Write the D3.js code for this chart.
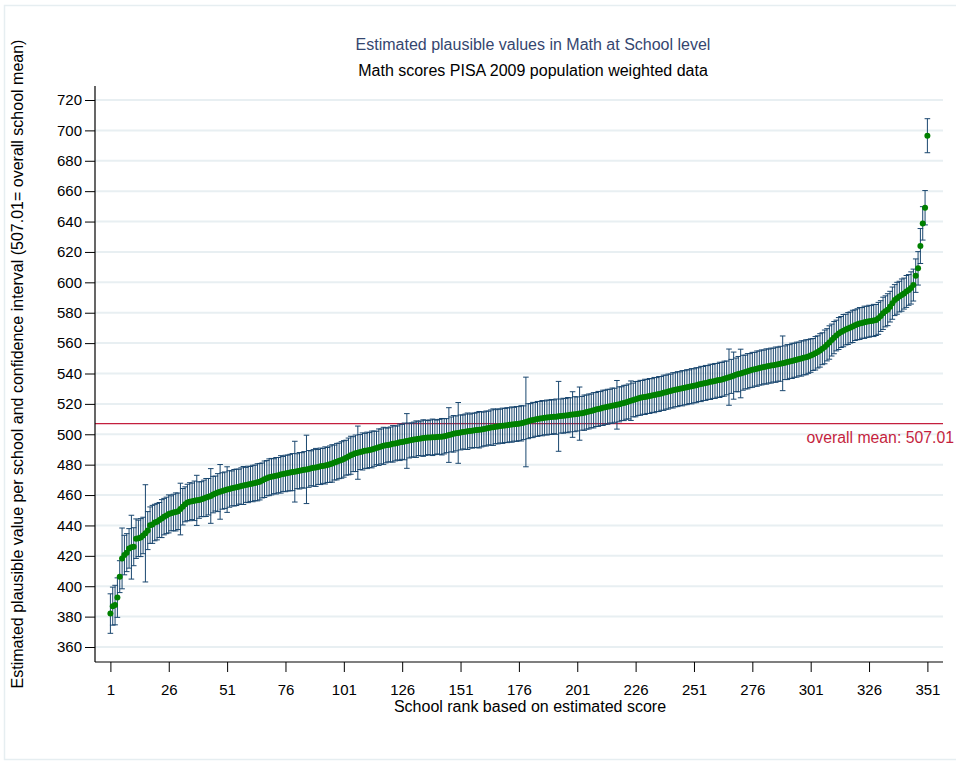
<!DOCTYPE html>
<html>
<head>
<meta charset="utf-8">
<script src="https://cdn.jsdelivr.net/npm/d3@7"></script>
<style>
  html, body { margin: 0; padding: 0; background: #ffffff; }
  svg { display: block; }
  text { font-family: "Liberation Sans", Arial, Helvetica, sans-serif; }
</style>
</head>
<body>
<svg id="chart" width="956" height="762"></svg>
<script>
// ---- DATA ----
const titleText = "Estimated plausible values in Math at School level";
const subtitleText = "Math scores PISA 2009 population weighted data";
const yTitle = "Estimated plausible value per school and confidence interval (507.01= overall school mean)";
const xTitle = "School rank based on estimated score";
const overallMean = 507.01;
const meanLabel = "overall mean: 507.01";

const yTicks = [360, 380, 400, 420, 440, 460, 480, 500, 520, 540, 560, 580, 600, 620, 640, 660, 680, 700, 720];
const xTicks = [1, 26, 51, 76, 101, 126, 151, 176, 201, 226, 251, 276, 301, 326, 351];

// estimated school score, ordered by rank 1..351
const estimate = [
  382.0, 386.9, 387.6, 392.5, 406.3, 418.3, 420.5, 422.1, 424.9, 425.7,
  426.0, 431.3, 431.5, 432.0, 433.4, 434.8, 436.6, 440.2, 440.7, 441.9,
  442.5, 443.6, 444.5, 445.8, 446.6, 447.6, 448.0, 448.5, 448.9, 449.3,
  450.8, 452.3, 453.9, 455.1, 455.6, 455.9, 456.2, 456.5, 456.7, 457.3,
  457.8, 458.4, 458.9, 459.4, 460.3, 461.0, 461.6, 462.1, 462.7, 463.2,
  463.6, 464.0, 464.4, 464.8, 465.1, 465.5, 465.9, 466.3, 466.7, 467.0,
  467.3, 467.6, 468.0, 468.4, 468.8, 469.6, 470.4, 471.1, 471.7, 472.1,
  472.4, 472.7, 473.1, 473.6, 473.9, 474.2, 474.5, 474.8, 475.1, 475.4,
  475.7, 476.0, 476.3, 476.6, 476.9, 477.2, 477.6, 477.9, 478.2, 478.5,
  478.9, 479.2, 479.5, 479.8, 480.3, 480.8, 481.4, 482.0, 482.5, 483.1,
  483.8, 484.6, 485.4, 486.2, 486.9, 487.5, 487.9, 488.3, 488.7, 489.1,
  489.4, 489.6, 490.0, 490.5, 491.0, 491.5, 492.0, 492.4, 492.7, 493.0,
  493.3, 493.7, 494.0, 494.3, 494.7, 495.0, 495.3, 495.6, 495.9, 496.2,
  496.5, 496.8, 497.1, 497.3, 497.5, 497.7, 497.8, 497.9, 498.0, 498.1,
  498.2, 498.3, 498.4, 498.7, 499.1, 499.5, 499.9, 500.3, 500.6, 500.9,
  501.2, 501.5, 501.7, 502.0, 502.2, 502.4, 502.6, 502.8, 503.0, 503.2,
  503.5, 503.8, 504.1, 504.4, 504.7, 505.0, 505.2, 505.4, 505.6, 505.8,
  506.0, 506.2, 506.4, 506.6, 506.8, 507.0, 507.2, 507.6, 508.1, 508.6,
  509.0, 509.4, 509.8, 510.1, 510.4, 510.6, 510.8, 511.0, 511.2, 511.4,
  511.5, 511.6, 511.8, 512.0, 512.2, 512.4, 512.6, 512.8, 513.0, 513.2,
  513.4, 513.6, 513.8, 514.2, 514.6, 515.0, 515.4, 515.8, 516.3, 516.7,
  517.0, 517.4, 517.8, 518.1, 518.5, 518.8, 519.1, 519.4, 519.7, 520.2,
  520.6, 521.1, 521.6, 522.1, 522.6, 523.1, 523.6, 524.0, 524.3, 524.6,
  524.9, 525.2, 525.5, 525.8, 526.1, 526.5, 526.9, 527.3, 527.7, 528.1,
  528.5, 528.9, 529.3, 529.7, 530.0, 530.3, 530.6, 531.0, 531.3, 531.6,
  531.9, 532.3, 532.7, 533.1, 533.4, 533.8, 534.1, 534.5, 534.8, 535.1,
  535.5, 535.8, 536.1, 536.6, 537.1, 537.6, 538.1, 538.6, 539.1, 539.6,
  540.0, 540.5, 541.0, 541.5, 541.9, 542.4, 542.8, 543.2, 543.6, 544.0,
  544.3, 544.6, 544.9, 545.2, 545.5, 545.8, 546.1, 546.4, 546.7, 547.1,
  547.5, 547.9, 548.3, 548.7, 549.1, 549.5, 549.9, 550.3, 550.7, 551.2,
  551.8, 552.5, 553.3, 554.2, 555.2, 556.3, 557.5, 558.9, 560.4, 562.0,
  563.6, 565.0, 566.3, 567.3, 568.2, 568.9, 569.6, 570.3, 571.0, 571.8,
  572.4, 572.9, 573.3, 573.7, 574.0, 574.4, 574.6, 574.9, 575.2, 576.3,
  577.8, 579.6, 580.9, 582.0, 584.0, 586.3, 588.3, 589.5, 590.6, 591.6,
  592.6, 594.0, 595.0, 596.3, 598.2, 604.4, 609.2, 623.9, 638.8, 649.1,
  696.5
];

// half width of the confidence interval, same order
const ciHalf = [
  13, 12.5, 13, 13, 10.5, 20, 13, 12.5, 13, 21,
  12.5, 13, 12, 12.5, 12, 32, 12.5, 12, 12.5, 12,
  12, 11.5, 12.5, 12, 12, 12.5, 11.5, 12, 12.5, 12,
  17, 12, 11.5, 12, 12.5, 12, 13, 16.5, 12, 11.5,
  12, 12.5, 12, 18, 12, 11.5, 12.5, 18, 12, 12,
  15, 12, 11.5, 12, 12, 11.5, 12, 12.5, 11.5, 12,
  11.5, 12, 11.7, 12.2, 12, 11.5, 12, 11.6, 12.1, 12,
  11.5, 12, 11.6, 12.3, 11.5, 12, 11.8, 12, 12.2, 20,
  11.5, 12, 11.6, 12, 22.5, 12.1, 11.5, 12, 12.5, 11.5,
  12, 11.5, 12.2, 11.5, 12, 12.3, 11.5, 12, 11.7, 12,
  12, 11.5, 12.1, 12.5, 11.5, 12, 17.5, 11.5, 12.2, 11.5,
  12, 11.5, 12.1, 11.6, 11, 12, 11.5, 12.2, 11.5, 11.2,
  11.5, 12, 11.5, 11.2, 12, 11.5, 12.1, 18, 11.5, 11.2,
  11.5, 12, 11.1, 11.5, 12, 11.6, 11.2, 11.5, 12, 11.5,
  11.2, 11.5, 12, 11.6, 11.2, 18, 11.5, 12, 11.5, 20,
  11.5, 11.2, 11.6, 12, 11.1, 11.5, 11.3, 11.6, 12, 11.5,
  11.2, 11.5, 11.1, 11.6, 12, 11.2, 11.5, 11.1, 11.6, 11.2,
  11.5, 11.2, 11.6, 11.1, 11.5, 11.2, 11.6, 11.1, 29.5, 11.5,
  11.2, 11.6, 11.1, 11.5, 11.2, 11.6, 11.1, 11.5, 11.2, 11.5,
  11.1, 11.6, 23, 11.2, 11.5, 11.1, 11.6, 11.2, 15, 11.5,
  11.2, 17.5, 11.1, 11.6, 11.2, 11.5, 11.1, 11.6, 11.2, 11.5,
  11.1, 11.6, 11.2, 11.5, 11.1, 11.6, 11.2, 16, 11.5, 11.1,
  11.6, 11.2, 11.5, 13, 11.1, 11.6, 11.2, 11.5, 11.1, 11.6,
  11.2, 11.5, 11.1, 11.6, 11.2, 11.5, 11.1, 11.6, 11.2, 11.5,
  11.1, 11.6, 11.2, 11.5, 11.1, 11.6, 11.2, 11.5, 11.1, 11.6,
  11.2, 11.5, 11.1, 11.6, 11.2, 11.5, 11.1, 11.6, 11.2, 11.5,
  11.1, 11.6, 11.2, 11.5, 11.1, 18.5, 11.2, 15.5, 11.1, 11.6,
  16, 11.5, 11.1, 11.6, 11.2, 11.5, 11.1, 11.6, 11.2, 11.5,
  11.1, 11.6, 11.2, 11.5, 11.1, 11.6, 11.2, 11.5, 18, 11.1,
  11.5, 11.1, 11.6, 11.2, 11.5, 11.1, 11.6, 11.2, 11.5, 11.1,
  11, 10.5, 11, 10.6, 11, 10.5, 11.1, 10.6, 11, 10.5,
  10.6, 10.1, 10.5, 10.2, 10.6, 10.1, 10.5, 10.2, 10.6, 10.1,
  10.2, 10.5, 10.1, 10.6, 10.2, 10.5, 10.1, 10.6, 10.2, 10.5,
  10.1, 10.6, 10.2, 10.5, 10.1, 10.6, 10.2, 10.5, 10.1, 10.6,
  10.2, 10.5, 10.1, 10.6, 10.5, 11, 11, 11.5, 11, 11.3,
  11.2
];

// ---- CHART ----
const svg = d3.select("#chart");

const plotLeft = 95, plotRight = 943, axisTop = 86, axisBottom = 662;

const x = d3.scaleLinear().domain([1, 351]).range([110.4, 927.4]);
const y = d3.scaleLinear().domain([360, 720]).range([647, 100]);

const data = estimate.map((v, i) => ({ rank: i + 1, v: v, lo: v - ciHalf[i], hi: v + ciHalf[i] }));

// outer graph-region border
svg.append("rect")
  .attr("x", 4.5).attr("y", 5.5).attr("width", 970).attr("height", 754)
  .attr("fill", "none").attr("stroke", "#e6eef1").attr("stroke-width", 1.5);

// gridlines
svg.append("g").selectAll("line").data(yTicks).join("line")
  .attr("x1", plotLeft).attr("x2", plotRight)
  .attr("y1", d => y(d)).attr("y2", d => y(d))
  .attr("stroke", "#e8eff2").attr("stroke-width", 2);

// overall mean line
svg.append("line")
  .attr("x1", plotLeft).attr("x2", plotRight)
  .attr("y1", y(overallMean)).attr("y2", y(overallMean))
  .attr("stroke", "#c41f3e").attr("stroke-width", 1.4);

svg.append("text")
  .attr("x", 954).attr("y", y(overallMean) + 19)
  .attr("text-anchor", "end")
  .attr("font-size", 15.8)
  .attr("fill", "#c41f3e")
  .text(meanLabel);

// error bars (range caps)
const bars = svg.append("g").attr("stroke", "#1a476f").attr("fill", "none");
bars.selectAll("line.v").data(data).join("line").attr("class", "v")
  .attr("x1", d => x(d.rank)).attr("x2", d => x(d.rank))
  .attr("y1", d => y(d.hi)).attr("y2", d => y(d.lo))
  .attr("stroke-width", 1);
bars.selectAll("line.t").data(data).join("line").attr("class", "t")
  .attr("x1", d => x(d.rank) - 2.8).attr("x2", d => x(d.rank) + 2.8)
  .attr("y1", d => y(d.hi)).attr("y2", d => y(d.hi))
  .attr("stroke-width", 1);
bars.selectAll("line.b").data(data).join("line").attr("class", "b")
  .attr("x1", d => x(d.rank) - 2.8).attr("x2", d => x(d.rank) + 2.8)
  .attr("y1", d => y(d.lo)).attr("y2", d => y(d.lo))
  .attr("stroke-width", 1);

// points
svg.append("g").selectAll("circle").data(data).join("circle")
  .attr("cx", d => x(d.rank)).attr("cy", d => y(d.v))
  .attr("r", 3).attr("fill", "#008000");

// y axis
const yAxis = d3.axisLeft(y).tickValues(yTicks).tickSize(10).tickPadding(3).tickSizeOuter(0);
const gy = svg.append("g").attr("transform", `translate(${plotLeft},0)`).call(yAxis);
gy.select(".domain").remove();
gy.selectAll("text").attr("font-size", 15).attr("fill", "#000").attr("font-family", "'Liberation Sans', Arial, sans-serif");
gy.selectAll(".tick line").attr("stroke", "#000");
svg.append("line").attr("x1", plotLeft).attr("x2", plotLeft)
  .attr("y1", axisTop).attr("y2", axisBottom).attr("stroke", "#000").attr("stroke-width", 1.2);

// x axis
const xAxis = d3.axisBottom(x).tickValues(xTicks).tickSize(10).tickPadding(12).tickSizeOuter(0);
const gx = svg.append("g").attr("transform", `translate(0,${axisBottom})`).call(xAxis);
gx.select(".domain").remove();
gx.selectAll("text").attr("font-size", 15).attr("fill", "#000").attr("font-family", "'Liberation Sans', Arial, sans-serif");
gx.selectAll(".tick line").attr("stroke", "#000");
svg.append("line").attr("x1", plotLeft).attr("x2", plotRight)
  .attr("y1", axisBottom).attr("y2", axisBottom).attr("stroke", "#000").attr("stroke-width", 1.2);

// titles
svg.append("text").attr("x", 533).attr("y", 50).attr("text-anchor", "middle")
  .attr("font-size", 16).attr("fill", "#35466f").text(titleText);
svg.append("text").attr("x", 533).attr("y", 76).attr("text-anchor", "middle")
  .attr("font-size", 16).attr("fill", "#000").text(subtitleText);

svg.append("text").attr("x", 530).attr("y", 712).attr("text-anchor", "middle")
  .attr("font-size", 16).attr("fill", "#000").text(xTitle);

svg.append("text")
  .attr("transform", "translate(23,364) rotate(-90)")
  .attr("text-anchor", "middle")
  .attr("font-size", 16).attr("fill", "#000").text(yTitle);
</script>
</body>
</html>
